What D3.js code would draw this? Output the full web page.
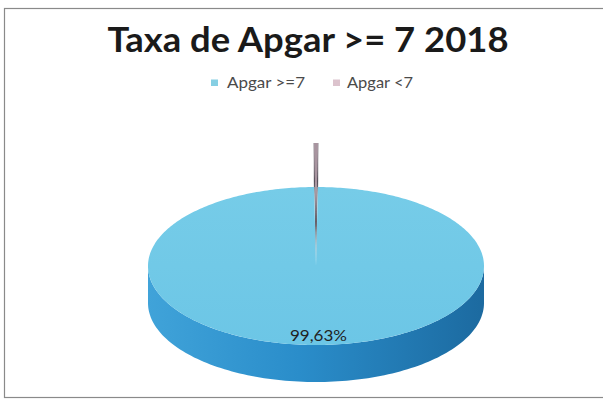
<!DOCTYPE html>
<html>
<head>
<meta charset="utf-8">
<script src="https://cdn.jsdelivr.net/npm/d3@7/dist/d3.min.js"></script>
<style>
html,body{margin:0;padding:0;background:#fff;}
svg{display:block;}
</style>
</head>
<body>
<svg id="chart" width="603" height="400"></svg>
<script>
// ---- data ----
const title = "Taxa de Apgar >= 7 2018";
const categories = ["Apgar >=7", "Apgar <7"];
const values = [99.63, 0.37];
const labels = ["99,63%", null];
const topColors = ["#70c9e7", "#a8949f"];
const legendColors = ["#86cfe3", "#dcc3cd"];

const W = 603, H = 400;
const svg = d3.select("#chart");

// frame
svg.append("rect").attr("x", 4.5).attr("y", 8.5).attr("width", 600).attr("height", 389)
  .attr("fill", "#fff").attr("stroke", "#8a8a8a").attr("stroke-width", 1.2);

// title
const t = svg.append("text").attr("x", 308).attr("y", 52).attr("text-anchor", "middle")
  .attr("font-family", "Lato, 'Open Sans', sans-serif").attr("font-weight", 700)
  .attr("font-size", 35).attr("fill", "#1a1a1a").text(title);
t.attr("textLength", 401).attr("lengthAdjust", "spacingAndGlyphs");

// legend
const legSq = [211, 333];
const legTx = [227, 347];
const legW = [78, 66];
const lg = svg.append("g");
categories.forEach((c, i) => {
  lg.append("rect").attr("x", legSq[i]).attr("y", 79.5).attr("width", 7).attr("height", 6.5)
    .attr("fill", legendColors[i]);
  lg.append("text").attr("x", legTx[i]).attr("y", 87.5)
    .attr("font-family", "Lato, 'Open Sans', sans-serif").attr("font-size", 15)
    .attr("fill", "#4a4a4a").attr("textLength", legW[i]).attr("lengthAdjust", "spacingAndGlyphs")
    .text(c);
});

// 3D pie geometry
const cx = 316, cy = 266, rx = 168, ry = 79, depth = 37, explode = 44;
const smallHalf = values[1] / d3.sum(values) * Math.PI; // half angle of small slice
const pie = d3.pie().sort(null)
  .startAngle(smallHalf).endAngle(2 * Math.PI + smallHalf);
const arcs = pie(values);

const px = (a, r = 1) => rx * r * Math.sin(a);
const py = (a, r = 1) => -ry * r * Math.cos(a);

const defs = svg.append("defs");
const g1 = defs.append("linearGradient").attr("id", "wallGrad").attr("x1", "0").attr("x2", "1").attr("y1", "0").attr("y2", "0");
g1.append("stop").attr("offset", "0%").attr("stop-color", "#40a3d9");
g1.append("stop").attr("offset", "45%").attr("stop-color", "#2a8dca");
g1.append("stop").attr("offset", "100%").attr("stop-color", "#1c6aa0");
const g2 = defs.append("linearGradient").attr("id", "topGrad").attr("x1", "0").attr("x2", "0").attr("y1", "0").attr("y2", "1");
g2.append("stop").attr("offset", "0%").attr("stop-color", "#76cce8");
g2.append("stop").attr("offset", "100%").attr("stop-color", "#6cc6e6");

function sampleArc(a0, a1, n) {
  const pts = [];
  for (let k = 0; k <= n; k++) pts.push(a0 + (a1 - a0) * k / n);
  return pts;
}

function drawSlice(d, i, g) {
  const isSmall = i === 1;
  const oy = isSmall ? -explode : 0;
  const gg = g.append("g").attr("transform", `translate(${cx},${cy + oy})`);
  const line = d3.line();
  const n = Math.max(4, Math.ceil((d.endAngle - d.startAngle) * 60));
  const angs = sampleArc(d.startAngle, d.endAngle, n);

  const frontA0 = Math.max(d.startAngle, Math.PI / 2);
  const frontA1 = Math.min(d.endAngle, 3 * Math.PI / 2);
  // radial walls
  const wallCol = isSmall ? "#4e4650" : "#eef8fc";
  [d.startAngle, d.endAngle].forEach(a => {
    const pts = [[0, 0], [px(a), py(a)], [px(a), py(a) + depth], [0, depth]];
    gg.append("path").attr("d", line(pts) + "Z").attr("fill", wallCol)
      .attr("stroke", wallCol).attr("stroke-width", isSmall ? 0.4 : 0.3);
  });
  if (frontA1 > frontA0) {
    const fa = sampleArc(frontA0, frontA1, 120);
    const topPts = fa.map(a => [px(a), py(a)]);
    const botPts = fa.slice().reverse().map(a => [px(a), py(a) + depth]);
    gg.append("path").attr("d", line(topPts.concat(botPts)) + "Z")
      .attr("fill", "url(#wallGrad)");
  }
  // top face
  const facePts = [[0, 0]].concat(angs.map(a => [px(a), py(a)]));
  gg.append("path").attr("d", line(facePts) + "Z")
    .attr("fill", isSmall ? topColors[1] : "url(#topGrad)");
}

const pg = svg.append("g");
drawSlice(arcs[1], 1, pg);
drawSlice(arcs[0], 0, pg);

// label
svg.append("text").attr("x", 318.5).attr("y", 341).attr("text-anchor", "middle")
  .attr("font-family", "Lato, 'Open Sans', sans-serif").attr("font-size", 15.5)
  .attr("fill", "#222").attr("textLength", 57).attr("lengthAdjust", "spacingAndGlyphs")
  .text(labels[0]);
</script>
</body>
</html>
